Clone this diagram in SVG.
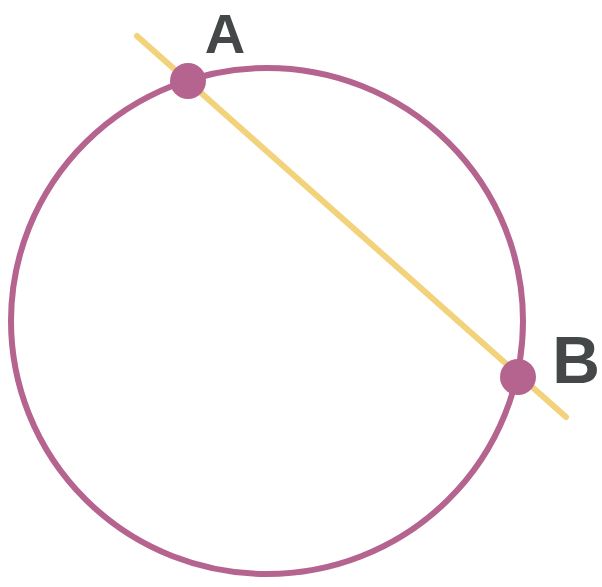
<svg xmlns="http://www.w3.org/2000/svg" width="602" height="587" viewBox="0 0 602 587">
<style>
.lbl{font-family:"Liberation Sans","DejaVu Sans",sans-serif;font-weight:bold;fill:#444849;text-anchor:middle}
.pt{fill:#B5638F}
</style>
<rect width="602" height="587" fill="#ffffff"/>
<g id="connectors">
<line id="line-AB" x1="137" y1="36" x2="566" y2="417" stroke="#F2D27A" stroke-width="6" stroke-linecap="round"/>
</g>
<g id="circle">
<ellipse cx="267" cy="321" rx="256" ry="253" fill="none" stroke="#B5638F" stroke-width="6"/>
</g>
<g id="node-A">
<circle class="pt" cx="188" cy="81" r="18"/>
<text class="lbl" x="225" y="53" font-size="56">A</text>
</g>
<g id="node-B">
<circle class="pt" cx="518" cy="377" r="18"/>
<text class="lbl" x="576" y="383" font-size="66">B</text>
</g>
</svg>
